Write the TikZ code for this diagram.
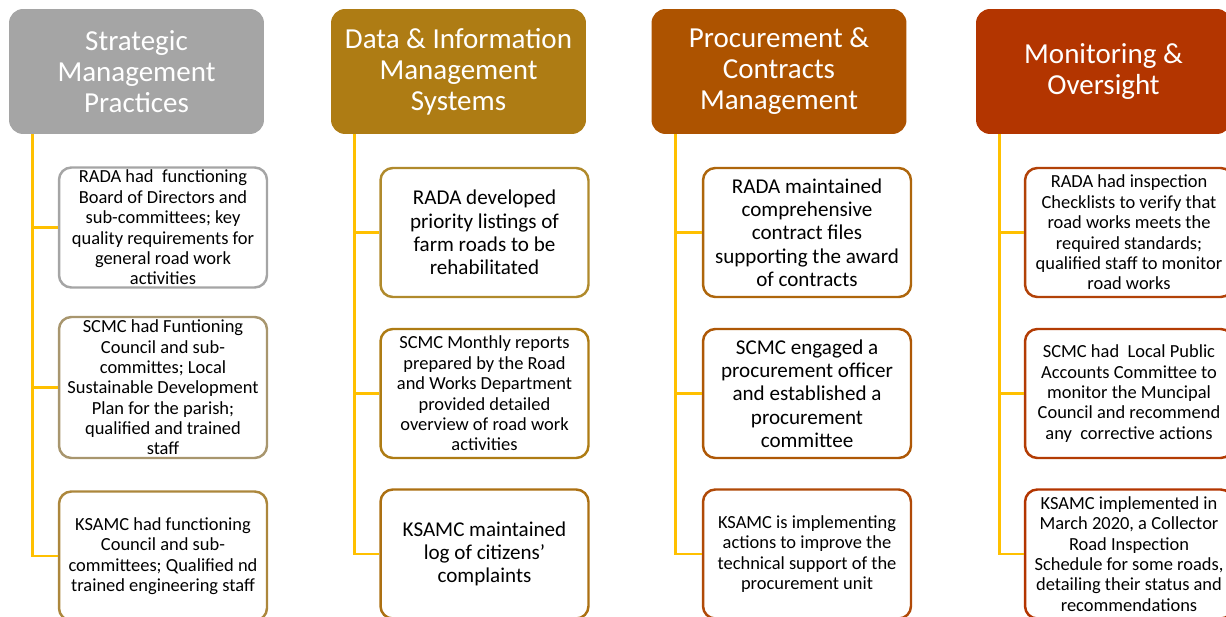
\documentclass[tikz,border=0pt]{standalone}
\usepackage{fontspec}
\setmainfont{Carlito}
\usetikzlibrary{calc,positioning}

\definecolor{trunkcol}{RGB}{255,192,0}
\definecolor{headgray}{RGB}{165,165,165}
\definecolor{headgold}{RGB}{174,124,20}
\definecolor{headorange}{RGB}{173,83,0}
\definecolor{headred}{RGB}{179,53,0}
\definecolor{edgeA}{RGB}{165,165,165}
\definecolor{edgeB}{RGB}{168,150,110}
\definecolor{edgeC}{RGB}{172,135,60}
\definecolor{edgeD}{RGB}{176,138,44}
\definecolor{edgeE}{RGB}{174,124,20}
\definecolor{edgeF}{RGB}{172,112,18}
\definecolor{edgeG}{RGB}{174,102,12}
\definecolor{edgeH}{RGB}{174,88,6}
\definecolor{edgeI}{RGB}{176,74,8}
\definecolor{edgeJ}{RGB}{178,66,8}
\definecolor{edgeK}{RGB}{179,60,4}
\definecolor{edgeL}{RGB}{179,53,0}

\begin{document}
\begin{tikzpicture}
      [x=0.02cm, y=-0.02cm,
        branch/.style={draw=trunkcol, line width=1.7pt},
        head/.style={
          rectangle,
          rounded corners=8pt,
          text=white,
          align=center,
          inner sep=0pt,
          minimum width=5.1cm,
          minimum height=2.5cm,
          font=\fontsize{16.5}{17.6}\selectfont
        },
        leaf/.style={
          rectangle,
          rounded corners=7pt,
          fill=white,
          line width=1.4pt,
          align=center,
          inner sep=0pt,
          minimum width=4.16cm,
          minimum height=2.58cm,
          font=\fontsize{10.5}{11.6}\selectfont
        },
        bigleaf/.style={leaf, font=\fontsize{12}{13.3}\selectfont}]
      \useasboundingbox (0,0) rectangle (1226,617);
      \clip (0,0) rectangle (1226,617);

      % headers
      \node[head, fill=headgray] (strategic) at (136.5,71.5) {Strategic\\Management\\Practices};
      \node[head, fill=headgold] (datainfo) at (458.5,71.5) {Data \& Information\\Management\\Systems};
      \node[head, fill=headorange] (procure) at (779,71.5) {Procurement \&\\Contracts\\Management};
      \node[head, fill=headred] (monitor) at (1103.5,71.5) {Monitoring \&\\Oversight};

      % strategic management
      \node[leaf, draw=edgeA, minimum height=2.4cm] (stratRada) at (163,227.5) {RADA had\ \ functioning\\Board of Directors and\\sub-committees; key\\quality requirements for\\general road work\\activities};
      \node[leaf, draw=edgeB, minimum height=2.82cm] (stratScmc) at (163,387.5) {SCMC had Funtioning\\Council and sub-\\committes; Local\\Sustainable Development\\Plan for the parish;\\qualified and trained\\staff};
      \node[leaf, draw=edgeC] (stratKsamc) at (163,556) {KSAMC had functioning\\Council and sub-\\committees; Qualified nd\\trained engineering staff};

      % data and information
      \node[bigleaf, draw=edgeD] (dataRada) at (484.5,232.5) {RADA developed\\priority listings of\\farm roads to be\\rehabilitated};
      \node[leaf, draw=edgeE] (dataScmc) at (484.5,393.5) {SCMC Monthly reports\\prepared by the Road\\and Works Department\\provided detailed\\overview of road work\\activities};
      \node[bigleaf, draw=edgeF] (dataKsamc) at (484.5,554) {KSAMC maintained\\log of citizens'\\complaints};

      % procurement
      \node[bigleaf, draw=edgeG] (procRada) at (807,232.5) {RADA maintained\\comprehensive\\contract files\\supporting the award\\of contracts};
      \node[bigleaf, draw=edgeH] (procScmc) at (807,393.5) {SCMC engaged a\\procurement officer\\and established a\\procurement\\committee};
      \node[leaf, draw=edgeI] (procKsamc) at (807,554) {KSAMC is implementing\\actions to improve the\\technical support of the\\procurement unit};

      % monitoring
      \node[leaf, draw=edgeJ] (monRada) at (1129,232.5) {RADA had inspection\\Checklists to verify that\\road works meets the\\required standards;\\qualified staff to monitor\\road works};
      \node[leaf, draw=edgeK] (monScmc) at (1129,393.5) {SCMC had\ \ Local Public\\Accounts Committee to\\monitor the Muncipal\\Council and recommend\\any\ \ corrective actions};
      \node[leaf, draw=edgeL] (monKsamc) at (1129,554) {KSAMC implemented in\\March 2020, a Collector\\Road Inspection\\Schedule for some roads,\\detailing their status and\\recommendations};

      % connectors
      \draw[branch] ($(strategic.south west)+(24,0)$) |- (stratRada.west);
      \draw[branch] ($(strategic.south west)+(24,0)$) |- (stratScmc.west);
      \draw[branch] ($(strategic.south west)+(24,0)$) |- (stratKsamc.west);
      \draw[branch] ($(datainfo.south west)+(24,0)$) |- (dataRada.west);
      \draw[branch] ($(datainfo.south west)+(24,0)$) |- (dataScmc.west);
      \draw[branch] ($(datainfo.south west)+(24,0)$) |- (dataKsamc.west);
      \draw[branch] ($(procure.south west)+(24,0)$) |- (procRada.west);
      \draw[branch] ($(procure.south west)+(24,0)$) |- (procScmc.west);
      \draw[branch] ($(procure.south west)+(24,0)$) |- (procKsamc.west);
      \draw[branch] ($(monitor.south west)+(24,0)$) |- (monRada.west);
      \draw[branch] ($(monitor.south west)+(24,0)$) |- (monScmc.west);
      \draw[branch] ($(monitor.south west)+(24,0)$) |- (monKsamc.west);
\end{tikzpicture}
\end{document}
